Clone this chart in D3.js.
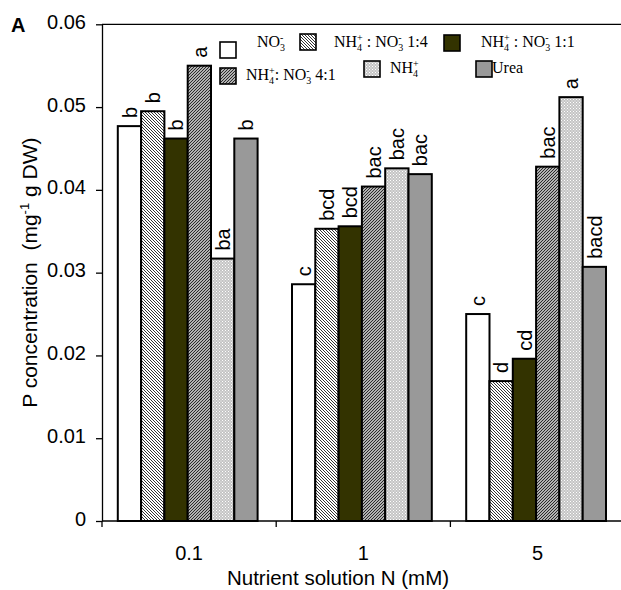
<!DOCTYPE html>
<html>
<head>
<meta charset="utf-8">
<script src="https://cdn.jsdelivr.net/npm/d3@7"></script>
<style>
  html, body { margin: 0; padding: 0; background: #fff; }
  svg { display: block; }
</style>
</head>
<body>
<svg id="chart" width="621" height="590"></svg>
<script>
// ---------------- data ----------------
const groups = ["0.1", "1", "5"];
const seriesKeys = ["no3", "r14", "r11", "r41", "nh4", "urea"];
const valNO3  = [0.0477, 0.0286, 0.0250];
const valR14  = [0.0495, 0.0353, 0.0169];
const valR11  = [0.0462, 0.0356, 0.0196];
const valR41  = [0.0550, 0.0404, 0.0428];
const valNH4  = [0.0317, 0.0426, 0.0512];
const valUrea = [0.0462, 0.0419, 0.0307];
const lettersNO3  = ["b", "c", "c"];
const lettersR14  = ["b", "bcd", "d"];
const lettersR11  = ["b", "bcd", "cd"];
const lettersR41  = ["a", "bac", "bac"];
const lettersNH4  = ["ba", "bac", "a"];
const lettersUrea = ["b", "bac", "bacd"];
const yTicks = [0, 0.01, 0.02, 0.03, 0.04, 0.05, 0.06];

const seriesValues = [valNO3, valR14, valR11, valR41, valNH4, valUrea];
const seriesLetters = [lettersNO3, lettersR14, lettersR11, lettersR41, lettersNH4, lettersUrea];

// ---------------- setup ----------------
const svg = d3.select("#chart");
const defs = svg.append("defs");

function hatch(id, dir, spacing, sw, color, bg) {
  const p = defs.append("pattern").attr("id", id).attr("patternUnits", "userSpaceOnUse")
    .attr("width", spacing).attr("height", spacing);
  p.append("rect").attr("width", spacing).attr("height", spacing).attr("fill", bg);
  const s = spacing;
  const paths = dir === "back"
    ? `M${-s/2},${s/2} L${s/2},${s*1.5} M0,0 L${s},${s} M${s/2},${-s/2} L${s*1.5},${s/2}`
    : `M${-s/2},${s/2} L${s/2},${-s/2} M0,${s} L${s},0 M${s/2},${s*1.5} L${s*1.5},${s/2}`;
  p.append("path").attr("d", paths).attr("stroke", color).attr("stroke-width", sw);
}
hatch("pat14", "back", 3, 1.0, "#333", "#fff");
hatch("pat41", "fwd", 3, 1.15, "#222", "#eee");
(function () {
  const p = defs.append("pattern").attr("id", "patNH4").attr("patternUnits", "userSpaceOnUse")
    .attr("width", 3).attr("height", 3);
  p.append("rect").attr("width", 3).attr("height", 3).attr("fill", "#c4c4c4");
  p.append("rect").attr("x", 0).attr("y", 0).attr("width", 1).attr("height", 1).attr("fill", "#fff");
  p.append("rect").attr("x", 1.5).attr("y", 1.5).attr("width", 1).attr("height", 1).attr("fill", "#fff");
})();

const fills = {
  no3: "#ffffff",
  r14: "url(#pat14)",
  r11: "#333300",
  r41: "url(#pat41)",
  nh4: "url(#patNH4)",
  urea: "#999999"
};

// scales
const x0 = d3.scaleBand().domain(groups).range([102, 624.6]).paddingInner(0).paddingOuter(0);
const x1 = d3.scaleBand().domain(seriesKeys).range([15.8, 155.6]).paddingInner(0).paddingOuter(0);
const y = d3.scaleLinear().domain([0, 0.06]).range([521, 24.3]);

const sans = "'Liberation Sans', Arial, sans-serif";
const serif = "'Liberation Serif', 'Times New Roman', serif";

// bars
const barData = [];
groups.forEach((g, gi) => {
  seriesKeys.forEach((k, si) => {
    barData.push({ g, k, v: seriesValues[si][gi], letter: seriesLetters[si][gi] });
  });
});

svg.append("g").selectAll("rect").data(barData).join("rect")
  .attr("x", d => x0(d.g) + x1(d.k))
  .attr("y", d => y(d.v))
  .attr("width", x1.bandwidth())
  .attr("height", d => y(0) - y(d.v))
  .attr("fill", d => fills[d.k])
  .attr("stroke", "#000")
  .attr("stroke-width", 2);

// letters
svg.append("g").selectAll("text").data(barData).join("text")
  .attr("transform", d => `translate(${x0(d.g) + x1(d.k) + x1.bandwidth() / 2},${y(d.v) - 8}) rotate(-90)`)
  .attr("dy", "0.36em")
  .attr("text-anchor", "start")
  .attr("font-family", sans)
  .attr("font-size", 20)
  .attr("fill", "#000")
  .text(d => d.letter);

// frame top line
svg.append("line").attr("x1", 102).attr("x2", 621).attr("y1", y(0.06)).attr("y2", y(0.06))
  .attr("stroke", "#000").attr("stroke-width", 1.3);

// y axis
const yAxis = d3.axisLeft(y).tickValues(yTicks).tickSize(6).tickSizeOuter(0).tickPadding(10)
  .tickFormat(d => d === 0 ? "0" : d3.format(".2f")(d));
const gy = svg.append("g").attr("transform", "translate(102,0)").call(yAxis);
gy.select(".domain").attr("stroke-width", 1.3);
gy.selectAll(".tick line").attr("stroke-width", 1.3);
gy.selectAll(".tick text").attr("font-family", sans).attr("font-size", 20).attr("dy", "0.2em").attr("fill", "#000");

// x axis
svg.append("line").attr("x1", 102).attr("x2", 621).attr("y1", y(0)).attr("y2", y(0))
  .attr("stroke", "#000").attr("stroke-width", 1.3);
svg.append("g").selectAll("line").data(groups).join("line")
  .attr("x1", d => x0(d)).attr("x2", d => x0(d))
  .attr("y1", y(0)).attr("y2", y(0) + 6)
  .attr("stroke", "#000").attr("stroke-width", 1.3);
svg.append("g").selectAll("text").data(groups).join("text")
  .attr("x", d => x0(d) + x0.bandwidth() / 2)
  .attr("y", 560)
  .attr("text-anchor", "middle")
  .attr("font-family", sans).attr("font-size", 20)
  .text(d => d);

svg.append("text").attr("x", 338).attr("y", 585).attr("text-anchor", "middle")
  .attr("font-family", sans).attr("font-size", 20.5)
  .text("Nutrient solution N (mM)");

// y title
const yt = svg.append("text")
  .attr("transform", `translate(37,${(y(0) + y(0.06)) / 2}) rotate(-90)`)
  .attr("text-anchor", "middle")
  .attr("font-family", sans).attr("font-size", 21);
yt.append("tspan").text("P concentration\u00a0\u00a0(mg");
yt.append("tspan").attr("font-size", 13).attr("dy", -8).text("-1");
yt.append("tspan").attr("dy", 8).text(" g DW)");

// panel label
svg.append("text").attr("x", 11).attr("y", 32).attr("font-family", sans)
  .attr("font-weight", "bold").attr("font-size", 20).text("A");

// ---------------- legend ----------------
const legendItems = [
  { k: "no3",  box: [220, 42], tx: 257, ty: 47, segs: [["NO", ""], ["3", "sub"], ["-", "supstack"]] },
  { k: "r14",  box: [300, 34], tx: 334, ty: 47, segs: [["NH", ""], ["4", "sub"], ["+", "supstack"], [" : NO", ""], ["3", "sub"], ["-", "supstack"], [" 1:4", ""]] },
  { k: "r11",  box: [444, 35], tx: 481, ty: 47, segs: [["NH", ""], ["4", "sub"], ["+", "supstack"], [" : NO", ""], ["3", "sub"], ["-", "supstack"], [" 1:1", ""]] },
  { k: "r41",  box: [220, 68], tx: 246, ty: 80, segs: [["NH", ""], ["4", "sub"], ["+", "supstack"], [": NO", ""], ["3", "sub"], ["-", "supstack"], [" 4:1", ""]] },
  { k: "nh4",  box: [364, 61], tx: 390, ty: 73, segs: [["NH", ""], ["4", "sub"], ["+", "supstack"]] },
  { k: "urea", box: [476, 61], tx: 492, ty: 73, segs: [["Urea", ""]] }
];

const lg = svg.append("g");
legendItems.forEach(it => {
  lg.append("rect").attr("x", it.box[0]).attr("y", it.box[1]).attr("width", 16).attr("height", 16)
    .attr("fill", fills[it.k]).attr("stroke", "#000").attr("stroke-width", 1.6);
  let cx = it.tx;
  let lastSubX = cx;
  let lastSubW = 0;
  it.segs.forEach(([t, kind]) => {
    const txt = lg.append("text").attr("font-family", serif).attr("fill", "#000").attr("xml:space", "preserve")
      .style("white-space", "pre");
    if (kind === "") {
      txt.attr("x", cx).attr("y", it.ty).attr("font-size", 16).text(t);
      cx += txt.node().getComputedTextLength();
    } else if (kind === "sub") {
      txt.attr("x", cx).attr("y", it.ty + 4).attr("font-size", 10).text(t);
      lastSubX = cx;
      lastSubW = txt.node().getComputedTextLength();
      cx += lastSubW;
    } else if (kind === "supstack") {
      txt.attr("x", lastSubX).attr("y", it.ty - 6).attr("font-size", 10).text(t);
      const w = txt.node().getComputedTextLength();
      cx = Math.max(cx, lastSubX + w);
    }
  });
});
</script>
</body>
</html>
